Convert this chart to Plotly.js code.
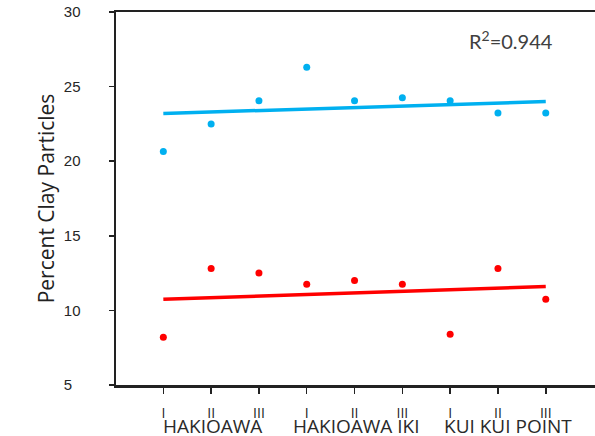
<!DOCTYPE html>
<html>
<head>
<meta charset="utf-8">
<script src="https://cdn.plot.ly/plotly-3.0.1.min.js"></script>
<style>html,body{margin:0;padding:0;background:#fff;}#chart{width:595px;height:436px;}</style>
</head>
<body>
<div id="chart"></div>
<script>
// ---- data ----
const numerals = ["I", "II", "III", "I", "II", "III", "I", "II", "III"];
const sites = ["HAKIOAWA", "HAKIOAWA", "HAKIOAWA",
               "HAKIOAWA IKI", "HAKIOAWA IKI", "HAKIOAWA IKI",
               "KUI KUI POINT", "KUI KUI POINT", "KUI KUI POINT"];
const blueValues = [20.65, 22.5, 24.05, 26.3, 24.05, 24.25, 24.05, 23.23, 23.23];
const redValues = [8.2, 12.8, 12.5, 11.75, 12.0, 11.75, 8.4, 12.8, 10.75];
const blueTrend = [23.2, 24.0];   // trend line at first and last sample
const redTrend = [10.75, 11.6];
const yTicks = [5, 10, 15, 20, 25, 30];
const r2Label = "R<sup>2</sup>=0.944";

// ---- build ----
const xIdx = numerals.map((_, i) => i);
const trendX = [xIdx[0], xIdx[xIdx.length - 1]];
const groupNames = sites.filter((s, i) => sites.indexOf(s) === i);
const groupCenters = groupNames.map(g => {
  const idx = xIdx.filter(i => sites[i] === g);
  return idx.reduce((a, b) => a + b, 0) / idx.length;
});
const groupShift = [1, 2, 10];

const blue = "#00B0F0", red = "#FF0000";
const traces = [
  {x: xIdx, y: blueValues, mode: "markers", type: "scatter",
   marker: {color: blue, size: 7}, hoverinfo: "skip"},
  {x: trendX, y: blueTrend, mode: "lines", type: "scatter",
   line: {color: blue, width: 3.5}, hoverinfo: "skip"},
  {x: xIdx, y: redValues, mode: "markers", type: "scatter",
   marker: {color: red, size: 7}, hoverinfo: "skip"},
  {x: trendX, y: redTrend, mode: "lines", type: "scatter",
   line: {color: red, width: 3.5}, hoverinfo: "skip"}
];

const annotations = groupNames.map((g, k) => ({
  text: g, x: groupCenters[k], xref: "x", y: 0, yref: "paper",
  xanchor: "center", yanchor: "middle", yshift: -41, xshift: groupShift[k],
  borderpad: 0,
  showarrow: false, font: {family: "Open Sans", size: 19, color: "#2a2a2a"}
}));
annotations.push({
  text: r2Label, x: 7.28, xref: "x", y: 28.15, yref: "y",
  xanchor: "center", yanchor: "middle", showarrow: false,
  font: {family: "Lato", size: 20, color: "#404040"}
});

const layout = {
  width: 595, height: 436,
  margin: {l: 116, r: 0, t: 12, b: 51, pad: 0},
  paper_bgcolor: "#ffffff", plot_bgcolor: "#ffffff",
  showlegend: false,
  xaxis: {
    range: [-0.99, 9.03], showgrid: false, zeroline: false,
    tickmode: "array", tickvals: xIdx, ticktext: numerals,
    ticks: "outside", ticklen: 6, tickwidth: 1.5, tickcolor: "#222222",
    showline: true, linecolor: "#222222", linewidth: 2.5, mirror: true,
    tickfont: {family: "Open Sans", size: 14, color: "#222222"},
    ticklabelstandoff: 8
  },
  yaxis: {
    range: [5, 30], showgrid: false, zeroline: false,
    tickmode: "array", tickvals: yTicks,
    ticktext: yTicks.map(v => String(v).padEnd(2, "\u2007")),
    ticks: "outside", ticklen: 5, tickwidth: 1.5, tickcolor: "#222222",
    showline: true, linecolor: "#222222", linewidth: 2.5, mirror: false,
    tickfont: {family: "Liberation Sans", size: 15, color: "#262626"},
    ticklabelstandoff: 25,
    title: {text: "Percent Clay Particles", standoff: 4,
            font: {family: "Open Sans", size: 21, color: "#222222"}}
  },
  annotations: annotations
};

Plotly.newPlot("chart", traces, layout, {staticPlot: true, displayModeBar: false});
</script>
</body>
</html>
